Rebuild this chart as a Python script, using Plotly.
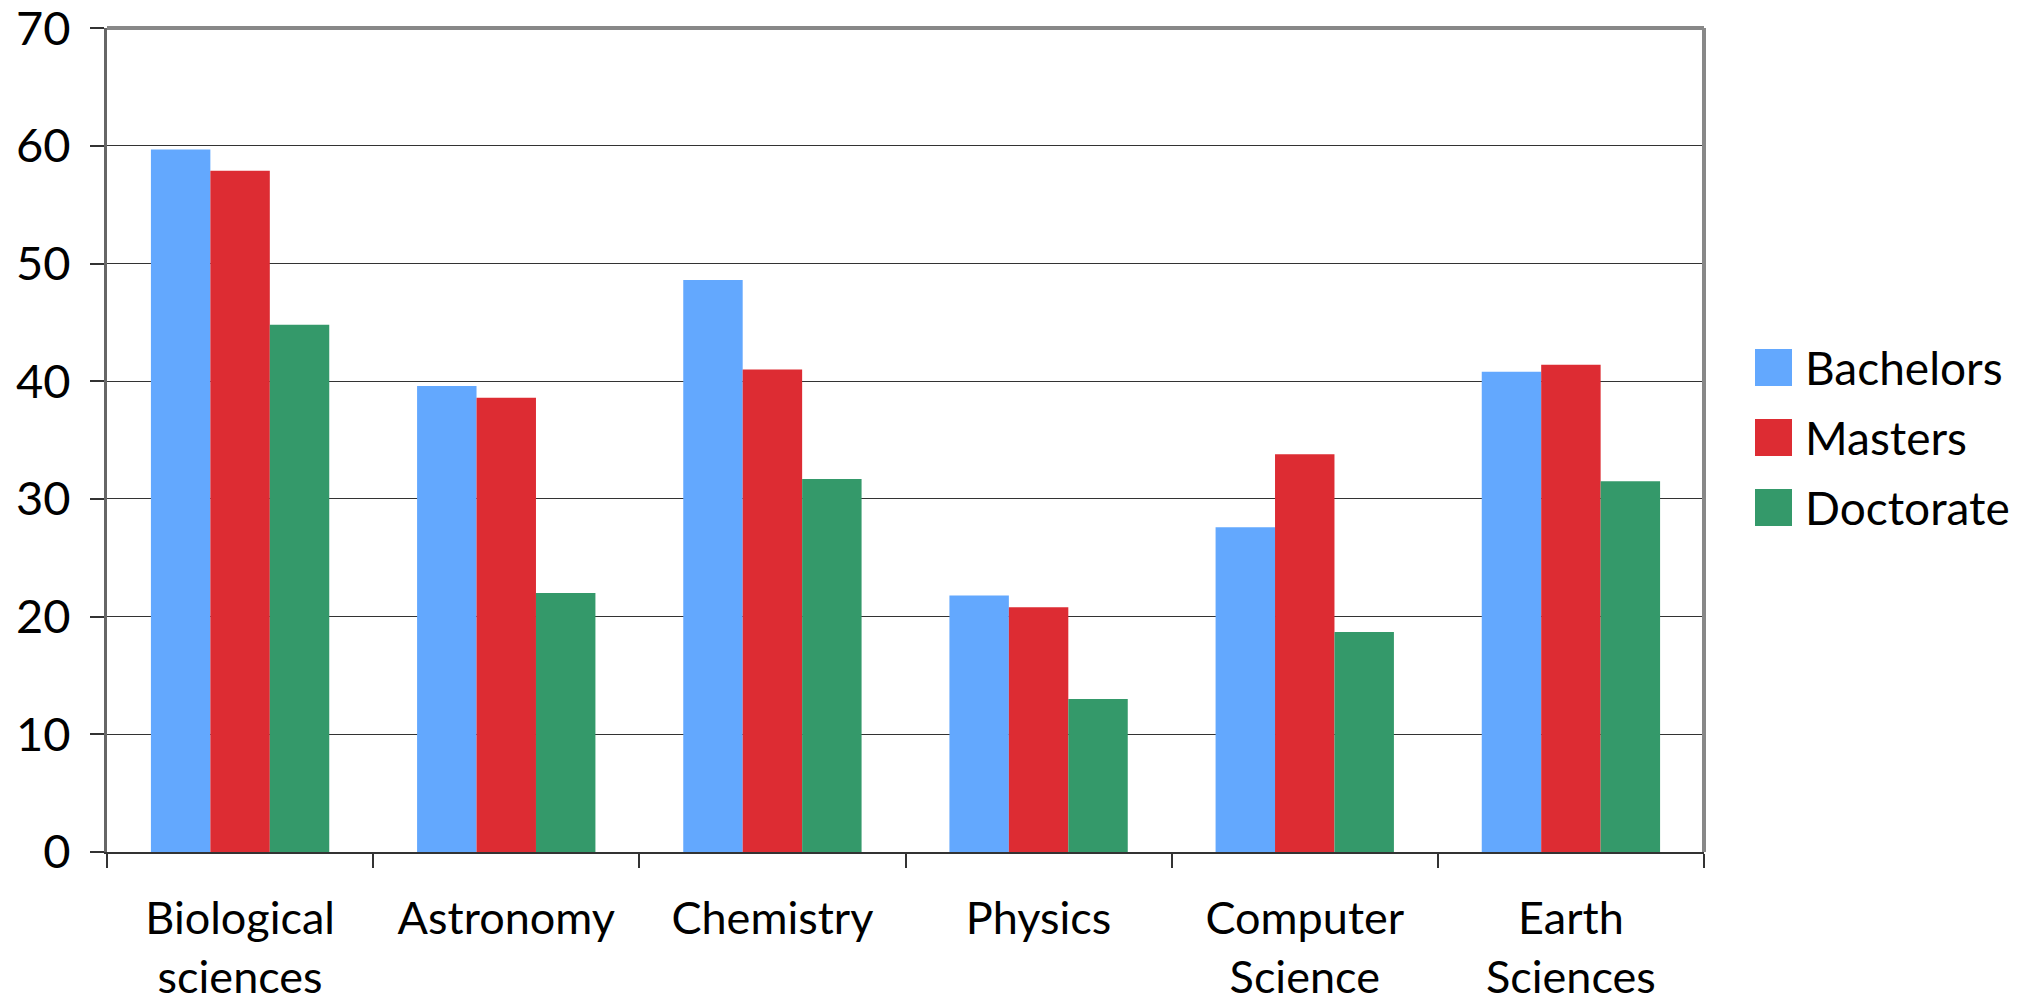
import plotly.graph_objects as go

categories = ["Biological<br>sciences", "Astronomy", "Chemistry", "Physics", "Computer<br>Science", "Earth<br>Sciences"]
series_names = ["Bachelors", "Masters", "Doctorate"]
bachelors = [59.7, 39.6, 48.6, 21.8, 27.6, 40.8]
masters = [57.9, 38.6, 41.0, 20.8, 33.8, 41.4]
doctorate = [44.8, 22.0, 31.7, 13.0, 18.7, 31.5]
colors = ["#63A8FE", "#DD2C33", "#34996A"]
y_ticks = [0, 10, 20, 30, 40, 50, 60, 70]

FONT = "Lato"

fig = go.Figure()
for name, vals, col in zip(series_names, [bachelors, masters, doctorate], colors):
    fig.add_trace(go.Bar(x=categories, y=vals, name=name, marker=dict(color=col, line=dict(width=0)),
                         showlegend=False))

fig.update_layout(
    width=2030, height=1003,
    margin=dict(l=107, r=326, t=28, b=151),
    paper_bgcolor="white", plot_bgcolor="white",
    barmode="group", bargap=0.33, bargroupgap=0,
    font=dict(family=FONT, color="black"),
)
fig.update_xaxes(
    showline=True, linecolor="#333", linewidth=2, automargin=False,
    ticks="outside", tickson="boundaries", ticklen=14, tickcolor="#333", tickwidth=1.5,
    tickfont=dict(size=45, family=FONT), showgrid=False, ticklabelstandoff=26,
)
fig.update_yaxes(
    range=[0, 70.02], tickvals=y_ticks, showline=True, linecolor="#666", linewidth=3,
    automargin=False,
    ticks="outside", ticklen=14, tickcolor="#333", tickwidth=1.5,
    tickfont=dict(size=47, family=FONT), showgrid=True, gridcolor="#333", gridwidth=1,
    zeroline=False, ticklabelstandoff=10, ticklabeloverflow="allow",
)
# top and right border
fig.add_shape(type="line", xref="x domain", yref="y domain", x0=0, x1=1, y0=1, y1=1,
              line=dict(color="#888", width=4))
fig.add_shape(type="line", xref="x domain", yref="y domain", x0=1, x1=1, y0=0, y1=1,
              line=dict(color="#888", width=4))

# custom legend with large square keys
leg_y = [0.588, 0.503, 0.418]
for name, col, yy in zip(series_names, colors, leg_y):
    fig.add_shape(type="rect", xref="paper", yref="paper",
                  x0=(1755 - 107) / 1597, x1=(1792 - 107) / 1597,
                  y0=yy - 18.5 / 824, y1=yy + 18.5 / 824,
                  line=dict(width=0), fillcolor=col)
    fig.add_annotation(xref="paper", yref="paper", x=(1803 - 107) / 1597, y=yy,
                       text=name, showarrow=False, xanchor="left", yanchor="middle",
                       font=dict(size=46, family=FONT, color="black"))

fig.write_html("out.html")
